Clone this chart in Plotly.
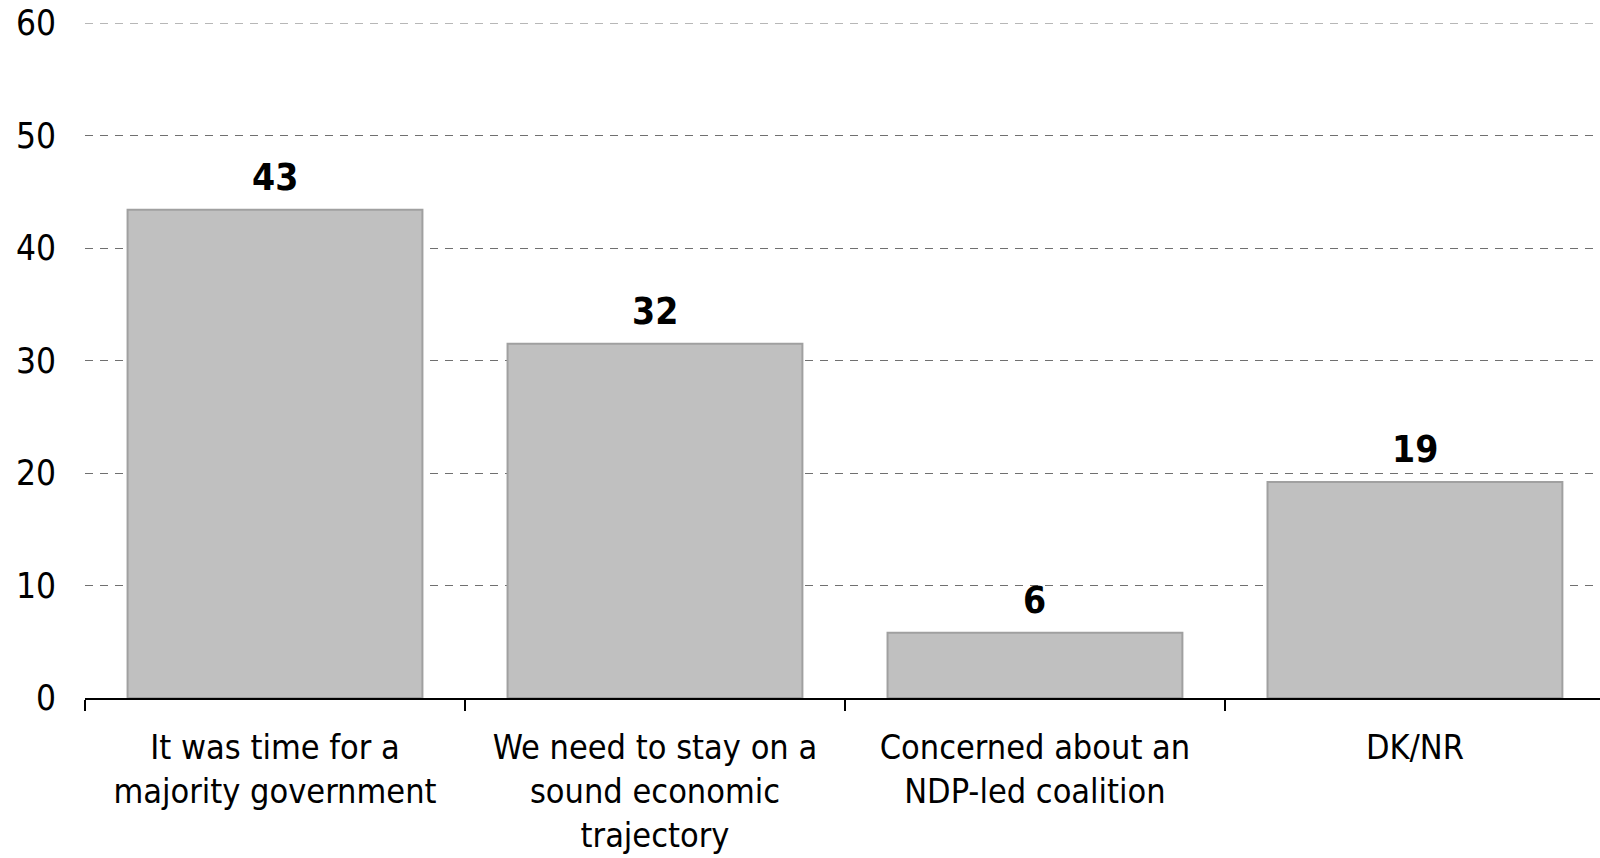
import plotly.graph_objects as go

categories = [
    "It was time for a<br>majority government",
    "We need to stay on a<br>sound economic<br>trajectory",
    "Concerned about an<br>NDP-led coalition",
    "DK/NR",
]
values = [43.4, 31.5, 5.8, 19.2]
labels = ["43", "32", "6", "19"]
y_ticks = [0, 10, 20, 30, 40, 50, 60]

FONT = "Tahoma, 'DejaVu Sans Condensed', 'DejaVu Sans', sans-serif"
GRID = "#707070"
DASH = "8px,7px"

fig = go.Figure(
    go.Bar(
        x=categories,
        y=values,
        marker=dict(color="#c0c0c0", line=dict(color="#a0a0a0", width=2)),
        hoverinfo="x+y",
    )
)

for c, v, t in zip(categories, values, labels):
    fig.add_annotation(
        x=c, y=v, text=t, showarrow=False,
        xanchor="center", yanchor="bottom", yshift=9,
        font=dict(family=FONT, size=37, color="black", weight="bold"),
    )

# top gridline (Plotly omits the gridline on the plot edge)
fig.add_shape(
    type="line", xref="paper", yref="y", x0=0, x1=1, y0=y_ticks[-1], y1=y_ticks[-1],
    line=dict(color=GRID, width=1, dash=DASH), layer="below",
)

fig.update_layout(
    width=1600,
    height=858,
    margin=dict(l=85, r=0, t=23, b=160),
    paper_bgcolor="white",
    plot_bgcolor="white",
    bargap=0.224,
    showlegend=False,
    font=dict(family=FONT, size=36, color="black"),
)
fig.update_xaxes(
    range=[-0.5, 3.487],
    automargin=False,
    showline=True,
    linecolor="black",
    linewidth=2,
    ticks="outside",
    tickson="boundaries",
    ticklen=11,
    tickwidth=2,
    tickcolor="black",
    showgrid=False,
    ticklabelstandoff=18,
    tickfont=dict(family=FONT, size=34, color="black"),
)
fig.update_yaxes(
    range=[0, 60],
    automargin=False,
    tickvals=y_ticks,
    showgrid=True,
    gridcolor=GRID,
    gridwidth=1,
    griddash=DASH,
    zeroline=False,
    showline=False,
    ticklabelstandoff=28,
    tickfont=dict(family=FONT, size=35, color="black"),
)

fig.write_html("out.html")
